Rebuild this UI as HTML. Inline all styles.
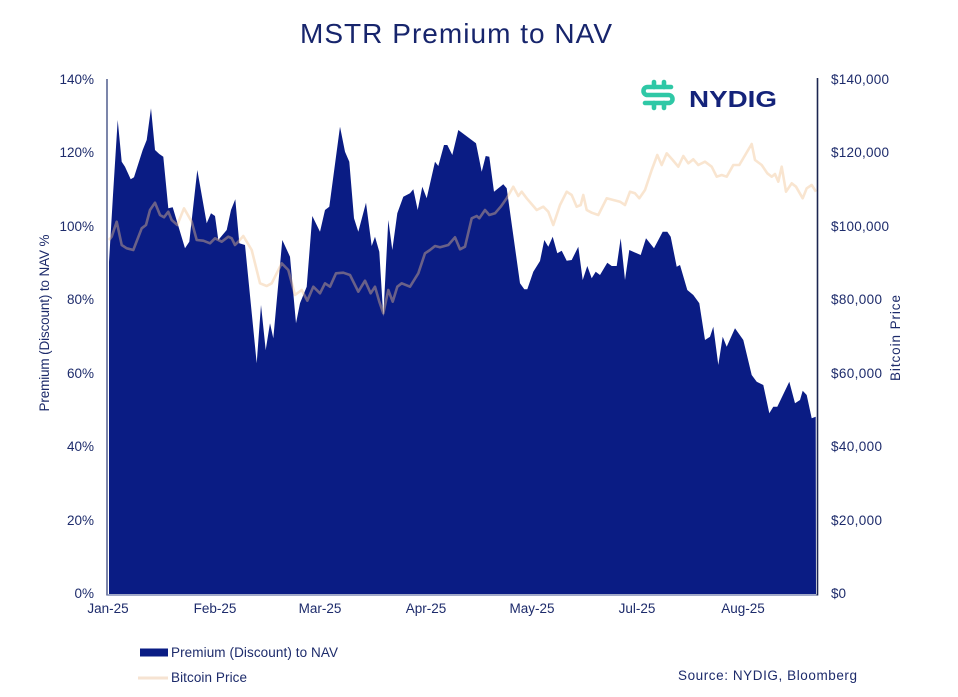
<!DOCTYPE html>
<html><head><meta charset="utf-8"><style>
html,body{margin:0;padding:0;background:#fff;}
svg{display:block;font-family:"Liberation Sans",sans-serif;}
</style></head><body>
<svg width="958" height="697" viewBox="0 0 958 697" xmlns="http://www.w3.org/2000/svg">
<rect width="958" height="697" fill="#fff"/>
<text x="456" y="43" text-anchor="middle" font-size="28" fill="#17256c" textLength="312">MSTR Premium to NAV</text>

<!-- area -->
<path fill="#0a1c84" d="M109,594 L109,262 L113,195 L117.7,120 L121.7,161.7 L125,166.7 L130.7,179.3 L134,177.3 L142.7,150 L146.7,140 L151,108.3 L155,150 L159.3,154 L163.3,156.7 L168.3,208.3 L172.7,207.3 L185,248.3 L189.3,241.7 L197.3,170 L206.7,223.3 L211,213.3 L215,216 L218.3,240 L226.7,230 L231,210 L235.3,199.3 L239.3,243.3 L245,245 L256.7,363.3 L261,305 L265.7,350 L270,323.3 L273.3,338.3 L282.3,240 L290,256.7 L296,323.3 L300,303.3 L306.7,286.7 L312.3,216 L320,231.7 L325,210 L329.3,206.7 L340,126.7 L345,151.7 L349.3,161.7 L354,218.3 L358.3,231.7 L366,202.7 L371.7,246 L375,236.7 L379.3,251.7 L383.3,316.7 L388.3,220 L392.3,250 L397.3,213.3 L403.3,196.7 L410,193.3 L413.3,189.3 L417.7,210 L422.3,186.7 L426.7,198.3 L435,161.7 L438.3,166 L444,145 L447.3,145 L452.3,155 L458.3,130 L465,135 L476,143.3 L481.7,171.7 L485.7,156 L489.3,156.7 L494,191.7 L503.3,184.3 L506.7,188.3 L520,283.3 L524.3,289.3 L527.3,289.3 L533.3,271.7 L540,261 L544.3,240 L548.3,246.7 L552.7,236.7 L557.3,253.3 L561.7,250.7 L566.7,260.7 L571.7,260 L578.3,246.7 L582.7,280 L587.3,266 L591.7,278.3 L595.7,271.7 L600,275 L607.3,262.7 L611.7,266 L616.7,266 L620.7,238.3 L625,280 L629.3,250 L640.7,255 L646,238.3 L654,248.3 L662.7,231.7 L667.3,231.7 L670.7,236.7 L676.7,266.7 L680,265 L687.3,290 L693.3,295 L699.3,303.3 L705,340 L710,336.7 L713.3,326.7 L718.3,365 L722.7,336.7 L726.7,346.7 L735,328.3 L743.3,340 L751.7,375 L756.7,381.7 L763.3,385 L769.3,413.3 L773.3,406.7 L777.3,406.7 L789.3,381.7 L795,403.3 L800,400 L802.7,390.7 L806.7,395 L811.7,418.3 L815.7,416.7 L816,594 Z"/>

<!-- bitcoin line -->
<polyline fill="none" stroke="#f0c090" stroke-opacity="0.42" stroke-width="2.6" stroke-linejoin="round" points="109,240 111.7,236.7 116.7,221.7 121.7,245 126.7,248.3 133.3,250 141.7,228.3 146,225 150,210 155,202.7 160,215 164,217.3 168.3,211.7 171.7,220 177.3,225 184,208.3 191.7,221.7 196.7,240 203.3,240.7 210,243.3 215,238.3 221.7,241.7 228.3,236.7 231.7,238.3 235,245 238.3,241.7 243.3,236 251.7,250 260,283.3 266.7,286 271.7,283.3 281.7,263.3 288.3,270 295,295 301.7,290 307.3,300.7 313.3,286.7 320,293.3 325,283.3 330,286.7 336,273.3 343.3,272.7 350,275 358.3,291.7 365,280.7 370.7,293.3 375,286.7 379.3,301.7 383.3,313.3 388.3,290 392.7,301.7 397.3,286.7 401.7,283.3 410,286.7 418.3,273.3 425,253.3 430,250 435,246 440,247.3 448.3,245 455,237.3 460,249.3 465,246.7 471.7,218.3 476.7,216 479.3,218.3 485,210 489.3,215 495,213.3 500.7,206.7 506.7,198.3 513.3,186.7 518.3,196 521.7,191.7 526.7,198.3 536.7,210 543.3,206.7 548.3,211.7 553.3,225 560,205 566.7,191.7 571.7,195 576.7,206.7 580.7,205 583.3,195 586.7,210 591.7,212.7 598.3,215 606.7,198.3 613.3,200 620,201.7 625,205 630,191.7 635,193.3 639.3,198.3 645,190 651.7,170 657.3,155 661.7,165 666.7,153.3 672.7,160 678.3,166.7 683.3,156 688.3,163.3 693.3,159.3 698.3,165 705,161.7 711.7,166.7 716.7,176.7 721.7,175 726.7,176.7 733.3,165 739.3,165 751.7,144 755,160 761.7,165 767.3,173.3 771.7,176.7 775,174 778.3,181.7 781.7,166.7 786,191.7 791.7,183.3 796,186.7 802.7,198.3 806.7,188.3 811.7,185 816,191.7"/>

<!-- axes -->
<line x1="107" y1="79" x2="107" y2="595.5" stroke="#5b6795" stroke-width="1.6"/>
<line x1="107" y1="595" x2="817" y2="595" stroke="#6a78a8" stroke-width="1.2"/>
<line x1="817.5" y1="78" x2="817.5" y2="595.5" stroke="#1c2550" stroke-width="1.6"/>

<!-- left ticks -->
<g font-size="13.5" fill="#1d2b6b" text-anchor="end">
<text x="94" y="84">140%</text>
<text x="94" y="157">120%</text>
<text x="94" y="231">100%</text>
<text x="94" y="304">80%</text>
<text x="94" y="378">60%</text>
<text x="94" y="451">40%</text>
<text x="94" y="525">20%</text>
<text x="94" y="598">0%</text>
</g>
<!-- right ticks -->
<g font-size="13.5" fill="#1d2b6b">
<text x="831" y="84" textLength="58">$140,000</text>
<text x="831" y="157" textLength="58">$120,000</text>
<text x="831" y="231" textLength="58">$100,000</text>
<text x="831" y="304" textLength="51">$80,000</text>
<text x="831" y="378" textLength="51">$60,000</text>
<text x="831" y="451" textLength="51">$40,000</text>
<text x="831" y="525" textLength="51">$20,000</text>
<text x="831" y="598">$0</text>
</g>
<!-- axis titles -->
<text transform="translate(49,323) rotate(-90)" text-anchor="middle" font-size="13.5" fill="#1d2b6b" textLength="177">Premium (Discount) to NAV %</text>
<text transform="translate(900,338) rotate(-90)" text-anchor="middle" font-size="13.5" fill="#1d2b6b" textLength="86">Bitcoin Price</text>

<!-- x labels -->
<g font-size="13.5" fill="#1d2b6b" text-anchor="middle">
<text x="108" y="613">Jan-25</text>
<text x="215" y="613">Feb-25</text>
<text x="320" y="613">Mar-25</text>
<text x="426" y="613">Apr-25</text>
<text x="532" y="613">May-25</text>
<text x="637" y="613">Jul-25</text>
<text x="743" y="613">Aug-25</text>
</g>

<!-- logo -->
<g fill="none" stroke="#2fc8a6" stroke-width="4.6" stroke-linecap="round">
<path d="M654,82 L654,87 M664,82 L664,87"/>
<path d="M671,87 L647.5,87 A4,4 0 0 0 647.5,95 L668.5,95 A4,4 0 0 1 668.5,103 L645,103"/>
<path d="M654,103 L654,108 M664,103 L664,108"/>
</g>
<text x="689" y="107" font-size="23" font-weight="bold" fill="#14237a" textLength="88" lengthAdjust="spacingAndGlyphs">NYDIG</text>

<!-- legend -->
<rect x="140" y="648.5" width="28" height="8" fill="#0a1c84"/>
<text x="171" y="657" font-size="13.5" fill="#1d2b6b" textLength="167">Premium (Discount) to NAV</text>
<line x1="138" y1="678" x2="168" y2="678" stroke="#f6e3d2" stroke-width="3"/>
<text x="171" y="682" font-size="13.5" fill="#1d2b6b" textLength="76">Bitcoin Price</text>
<text x="678" y="680" font-size="13.5" fill="#1d2b6b" textLength="179">Source: NYDIG, Bloomberg</text>
</svg>
</body></html>
